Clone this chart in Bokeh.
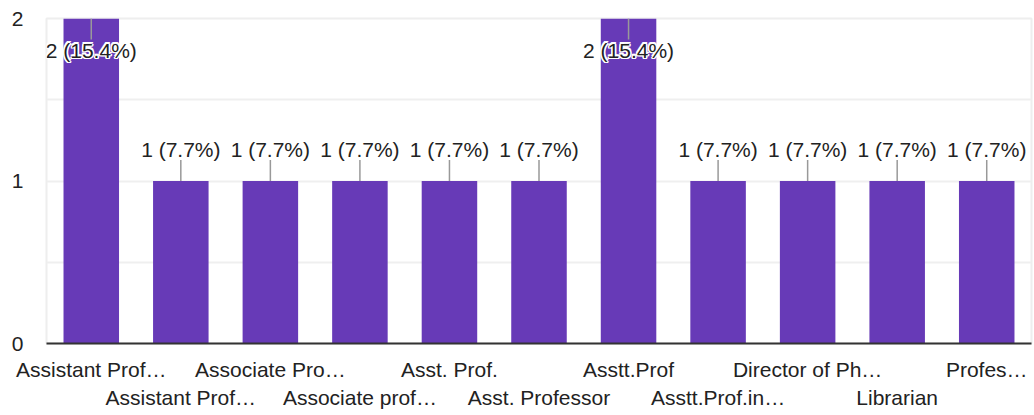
from bokeh.plotting import figure
from bokeh.models import (Range1d, FixedTicker, LinearAxis, CustomJSTickFormatter,
                          ColumnDataSource, LabelSet)
from bokeh.core.properties import value
from bokeh.embed import file_html
from bokeh.resources import INLINE

# ---- data ----
categories = ["Assistant Prof…", "Assistant Prof…", "Associate Pro…", "Associate prof…",
              "Asst. Prof.", "Asst. Professor", "Asstt.Prof", "Asstt.Prof.in…",
              "Director of Ph…", "Librarian", "Profes…"]
counts = [2, 1, 1, 1, 1, 1, 2, 1, 1, 1, 1]
y_ticks = [0, 1, 2]
grid_ticks = [0, 0.5, 1, 1.5, 2]

total = sum(counts)
value_labels = [f"{c} ({c / total * 100:.1f}%)" for c in counts]
xs = list(range(len(categories)))

# ---- layout ----
W, H = 1034, 415
TOP, BOTTOM, LEFT, RIGHT = 18, 72, 46, 3
ymax = max(y_ticks)
ppu = (H - TOP - BOTTOM) / ymax  # pixels per data unit

FONT = "Liberation Sans"
FS = "21px"
TXT = "#222222"
BAR = "#673ab7"

p = figure(width=W, height=H, x_range=Range1d(-0.5, len(categories) - 0.5),
           y_range=Range1d(0, ymax), output_backend="svg", toolbar_location=None,
           min_border_left=LEFT, min_border_right=RIGHT, min_border_top=TOP,
           min_border_bottom=BOTTOM, x_axis_location=None)
p.background_fill_color = "white"
p.border_fill_color = "white"
p.outline_line_color = "#eeeeee"
p.outline_line_width = 2

# grid
p.ygrid.ticker = FixedTicker(ticks=grid_ticks)
p.ygrid.grid_line_color = "#efefef"
p.ygrid.grid_line_width = 2
p.xgrid.grid_line_color = None

# y axis
p.yaxis.ticker = FixedTicker(ticks=y_ticks)
p.yaxis.axis_line_color = None
p.yaxis.major_tick_line_color = None
p.yaxis.minor_tick_line_color = None
p.yaxis.major_tick_out = 0
p.yaxis.major_tick_in = 0
p.yaxis.major_label_standoff = 23
p.yaxis.major_label_text_font = FONT
p.yaxis.major_label_text_font_size = FS
p.yaxis.major_label_text_color = TXT

# bars
p.vbar(x=xs, top=counts, width=0.62, fill_color=BAR, line_color=None)

# two staggered category axes
fmt = CustomJSTickFormatter(args=dict(labels=categories),
                            code="return labels[Math.round(tick)];")
even = [i for i in xs if i % 2 == 0]
odd = [i for i in xs if i % 2 == 1]
for ticks, line_color, standoff in ((even, "#333333", 14), (odd, None, 2)):
    ax = LinearAxis(ticker=FixedTicker(ticks=ticks), formatter=fmt,
                    axis_line_color=line_color, axis_line_width=2,
                    major_tick_line_color=None, minor_tick_line_color=None,
                    major_tick_out=0, major_tick_in=0, major_label_standoff=standoff,
                    major_label_text_font=FONT, major_label_text_font_size=FS,
                    major_label_text_color=TXT)
    p.add_layout(ax, "below")

# stems and value labels
stem_px, above_px, inside_px = 21, 24, 39
inside = [c == ymax for c in counts]
stem_end = [c - stem_px / ppu if ins else c + stem_px / ppu for c, ins in zip(counts, inside)]
label_y = [c - inside_px / ppu if ins else c + above_px / ppu for c, ins in zip(counts, inside)]

p.segment(x0=xs, x1=xs, y0=counts, y1=stem_end, line_color="#999999", line_width=1.5)

in_src = ColumnDataSource(dict(x=[x for x, i in zip(xs, inside) if i],
                               y=[y for y, i in zip(label_y, inside) if i],
                               t=[t for t, i in zip(value_labels, inside) if i]))
for dx, dy in ((-1.5, 0), (1.5, 0), (0, -1.5), (0, 1.5), (-1.2, -1.2), (1.2, 1.2), (-1.2, 1.2), (1.2, -1.2)):
    p.add_layout(LabelSet(x="x", y="y", text="t", source=in_src, x_offset=dx, y_offset=dy,
                          text_align="center", text_baseline="alphabetic",
                          text_font=value(FONT), text_font_size=value(FS),
                          text_color="white"))

all_src = ColumnDataSource(dict(x=xs, y=label_y, t=value_labels))
p.add_layout(LabelSet(x="x", y="y", text="t", source=all_src,
                      text_align="center", text_baseline="alphabetic",
                      text_font=value(FONT), text_font_size=value(FS), text_color=TXT))

open("out.html", "w").write(file_html(p, INLINE))
